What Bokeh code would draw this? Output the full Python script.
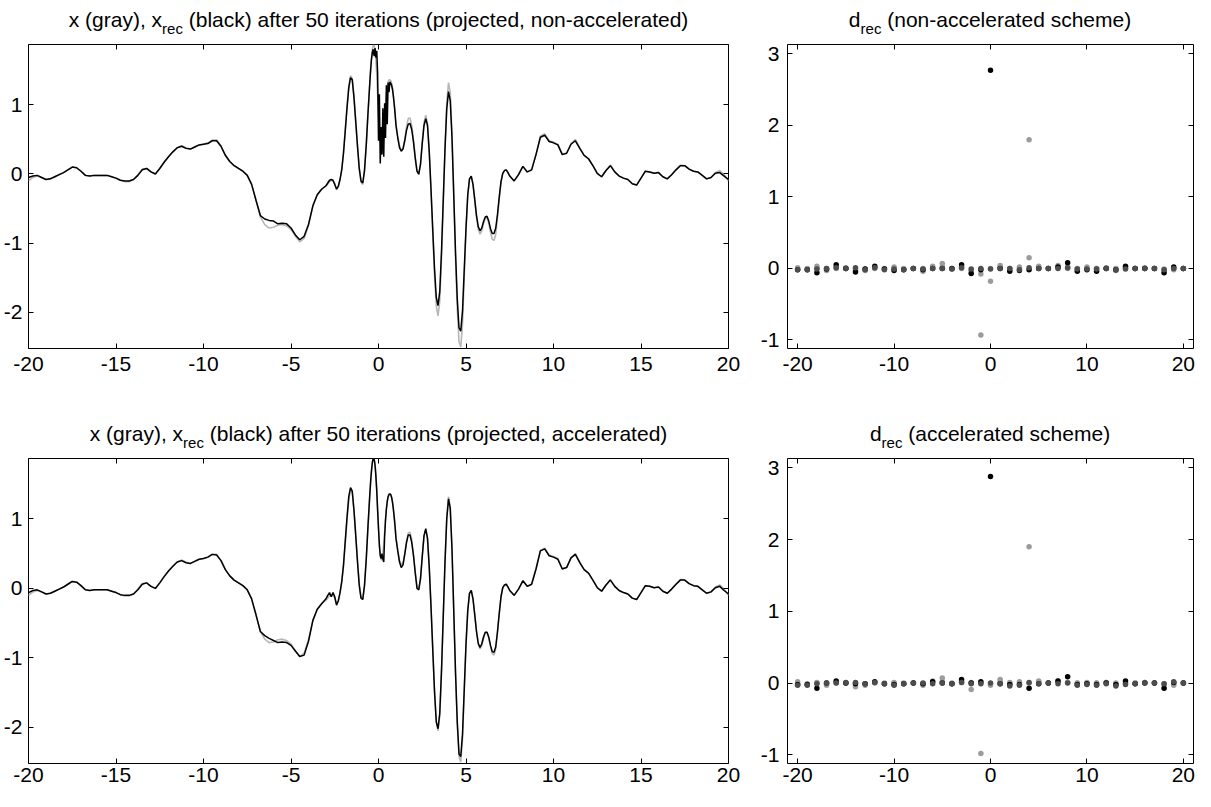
from bokeh.plotting import figure
from bokeh.layouts import column, row
from bokeh.models import FixedTicker, LinearAxis, Range1d
from bokeh.core.properties import value
from bokeh.embed import file_html
from bokeh.resources import INLINE

# ---------------- signal: sample positions ----------------
t = [
    # -20 .. -3.25
    -20.0, -19.75, -19.5, -19.25, -19.0, -18.75, -18.5, -18.25, -18.0, -17.75,
    -17.5, -17.25, -17.0, -16.75, -16.5, -16.25, -16.0, -15.75, -15.5, -15.25,
    -15.0, -14.75, -14.5, -14.25, -14.0, -13.75, -13.5, -13.25, -13.0, -12.75,
    -12.5, -12.25, -12.0, -11.75, -11.5, -11.25, -11.0, -10.75, -10.5, -10.25,
    -10.0, -9.75, -9.5, -9.25, -9.0, -8.75, -8.5, -8.25, -8.0, -7.75,
    -7.5, -7.25, -7.0, -6.75, -6.5, -6.25, -6.0, -5.75, -5.5, -5.25,
    -5.0, -4.75, -4.5, -4.25, -4.0, -3.75, -3.5, -3.25,
    # -3.0 .. -0.5
    -3.0, -2.9, -2.8, -2.7, -2.6, -2.5, -2.4, -2.3, -2.2, -2.1,
    -2.0, -1.9, -1.8, -1.7, -1.6, -1.5, -1.4, -1.3, -1.2, -1.1,
    -1.0, -0.9, -0.8, -0.7, -0.6, -0.5,
    # -0.45 .. 0.95
    -0.45, -0.4, -0.35, -0.3, -0.25, -0.2, -0.15, -0.1, -0.05, 0.0,
    0.05, 0.1, 0.15, 0.2, 0.25, 0.3, 0.35, 0.4, 0.45, 0.5,
    0.55, 0.6, 0.65, 0.7, 0.75, 0.8, 0.85, 0.9, 0.95,
    # 1.0 .. 7.4
    1.0, 1.1, 1.2, 1.3, 1.4, 1.5, 1.6, 1.7, 1.8, 1.9,
    2.0, 2.1, 2.2, 2.3, 2.4, 2.5, 2.6, 2.7, 2.8, 2.9,
    3.0, 3.1, 3.2, 3.3, 3.4, 3.5, 3.6, 3.7, 3.8, 3.9,
    4.0, 4.1, 4.2, 4.3, 4.4, 4.5, 4.6, 4.7, 4.8, 4.9,
    5.0, 5.1, 5.2, 5.3, 5.4, 5.5, 5.6, 5.7, 5.8, 5.9,
    6.0, 6.1, 6.2, 6.3, 6.4, 6.5, 6.6, 6.7, 6.8, 6.9,
    7.0, 7.1, 7.2, 7.3, 7.4,
    # 7.5 .. 20
    7.5, 7.75, 8.0, 8.25, 8.5, 8.75, 9.0, 9.25, 9.5, 9.75,
    10.0, 10.25, 10.5, 10.75, 11.0, 11.25, 11.5, 11.75, 12.0, 12.25,
    12.5, 12.75, 13.0, 13.25, 13.5, 13.75, 14.0, 14.25, 14.5, 14.75,
    15.0, 15.25, 15.5, 15.75, 16.0, 16.25, 16.5, 16.75, 17.0, 17.25,
    17.5, 17.75, 18.0, 18.25, 18.5, 18.75, 19.0, 19.25, 19.5, 19.75,
    20.0,
]

# x (gray, true signal)
x_true = [
    -0.10, -0.05, -0.03, -0.05, -0.08, -0.07, -0.04, -0.01, 0.02, 0.06,
    0.10, 0.09, 0.04, -0.02, -0.03, -0.02, -0.02, -0.02, -0.02, -0.04,
    -0.06, -0.09, -0.11, -0.11, -0.08, -0.01, 0.07, 0.08, 0.03, 0.00,
    0.08, 0.17, 0.25, 0.32, 0.38, 0.41, 0.38, 0.36, 0.39, 0.42,
    0.43, 0.45, 0.49, 0.49, 0.40, 0.27, 0.18, 0.12, 0.08, 0.04,
    -0.02, -0.15, -0.38, -0.62, -0.73, -0.78, -0.77, -0.74, -0.73, -0.75,
    -0.80, -0.90, -0.98, -0.93, -0.74, -0.46, -0.30, -0.22,
    -0.17, -0.14, -0.11, -0.10, -0.10, -0.14, -0.21, -0.19, -0.08, 0.08,
    0.32, 0.65, 0.98, 1.27, 1.42, 1.38, 1.12, 0.76, 0.40, 0.08,
    -0.12, -0.15, 0.05, 0.42, 0.88, 1.32,
    1.52, 1.68, 1.80, 1.86, 1.86, 1.80, 1.65, 1.43, 1.15, 0.88,
    0.64, 0.48, 0.41, 0.42, 0.50, 0.64, 0.82, 1.00, 1.15, 1.26,
    1.33, 1.36, 1.36, 1.35, 1.31, 1.24, 1.14, 1.02, 0.88,
    0.72, 0.55, 0.41, 0.34, 0.37, 0.50, 0.68, 0.80, 0.81, 0.70,
    0.49, 0.24, 0.04, -0.01, 0.14, 0.46, 0.74, 0.85, 0.72, 0.32,
    -0.24, -0.86, -1.46, -1.90, -2.05, -1.84, -1.22, -0.42, 0.38, 1.02,
    1.32, 1.18, 0.58, -0.32, -1.22, -1.95, -2.42, -2.50, -2.17, -1.48,
    -0.82, -0.32, -0.07, -0.03, -0.15, -0.38, -0.62, -0.80, -0.87, -0.82,
    -0.72, -0.64, -0.63, -0.71, -0.84, -0.94, -0.96, -0.87, -0.63, -0.36,
    -0.12, 0.01, 0.05, 0.06, 0.02,
    -0.03, -0.10, -0.01, 0.11, 0.03, 0.06, 0.28, 0.55, 0.58, 0.48,
    0.46, 0.43, 0.29, 0.30, 0.44, 0.50, 0.38, 0.27, 0.22, 0.12,
    0.01, -0.04, 0.05, 0.13, 0.03, -0.03, -0.06, -0.08, -0.14, -0.16,
    -0.06, 0.04, 0.03, 0.01, 0.02, -0.04, -0.07, -0.01, 0.06, 0.13,
    0.12, 0.07, 0.04, 0.03, -0.02, -0.07, -0.05, 0.02, 0.05, -0.01,
    -0.10,
]

# x_rec (black), projected, non-accelerated
x_rec_nonacc = [
    -0.05, -0.03, -0.02, -0.05, -0.08, -0.07, -0.04, -0.01, 0.02, 0.06,
    0.10, 0.09, 0.04, -0.02, -0.03, -0.02, -0.02, -0.02, -0.02, -0.04,
    -0.06, -0.09, -0.10, -0.10, -0.08, -0.02, 0.06, 0.08, 0.03, 0.00,
    0.08, 0.17, 0.25, 0.32, 0.38, 0.40, 0.37, 0.36, 0.39, 0.42,
    0.43, 0.44, 0.48, 0.48, 0.40, 0.27, 0.18, 0.12, 0.08, 0.04,
    -0.02, -0.15, -0.38, -0.60, -0.65, -0.67, -0.68, -0.72, -0.71, -0.72,
    -0.78, -0.88, -0.95, -0.90, -0.73, -0.46, -0.30, -0.22,
    -0.17, -0.13, -0.09, -0.08, -0.09, -0.15, -0.22, -0.18, -0.08, 0.06,
    0.30, 0.62, 0.95, 1.24, 1.39, 1.36, 1.10, 0.75, 0.40, 0.08,
    -0.10, -0.13, 0.05, 0.42, 0.88, 1.30,
    1.50, 1.66, 1.76, 1.80, 1.70, 1.82, 1.68, 1.78, 1.45, 0.48,
    1.15, 0.15, 0.68, 0.28, 0.95, 0.25, 1.02, 0.52, 1.28, 0.72,
    1.32, 1.18, 1.33, 1.31, 1.28, 1.22, 1.12, 1.00, 0.86,
    0.70, 0.52, 0.38, 0.33, 0.36, 0.48, 0.63, 0.72, 0.73, 0.64,
    0.46, 0.23, 0.04, 0.00, 0.14, 0.44, 0.70, 0.80, 0.70, 0.32,
    -0.22, -0.80, -1.36, -1.78, -1.90, -1.70, -1.12, -0.38, 0.36, 0.94,
    1.19, 1.06, 0.52, -0.30, -1.12, -1.80, -2.22, -2.27, -1.98, -1.38,
    -0.78, -0.30, -0.07, -0.03, -0.15, -0.37, -0.60, -0.76, -0.82, -0.78,
    -0.69, -0.62, -0.61, -0.68, -0.79, -0.86, -0.86, -0.78, -0.58, -0.33,
    -0.11, 0.01, 0.05, 0.06, 0.02,
    -0.03, -0.10, -0.01, 0.11, 0.03, 0.06, 0.28, 0.53, 0.56, 0.47,
    0.45, 0.42, 0.28, 0.30, 0.43, 0.48, 0.37, 0.27, 0.22, 0.12,
    0.01, -0.04, 0.05, 0.12, 0.03, -0.03, -0.06, -0.08, -0.14, -0.16,
    -0.06, 0.04, 0.03, 0.01, 0.02, -0.04, -0.07, -0.01, 0.06, 0.12,
    0.12, 0.07, 0.04, 0.03, -0.02, -0.07, -0.05, 0.01, 0.02, -0.03,
    -0.08,
]

# x_rec (black), projected, accelerated
x_rec_acc = [
    -0.06, -0.03, -0.02, -0.05, -0.08, -0.07, -0.04, -0.01, 0.02, 0.06,
    0.10, 0.09, 0.04, -0.02, -0.03, -0.02, -0.02, -0.02, -0.02, -0.04,
    -0.06, -0.09, -0.10, -0.10, -0.08, -0.02, 0.06, 0.08, 0.03, 0.00,
    0.08, 0.17, 0.25, 0.32, 0.38, 0.40, 0.37, 0.36, 0.39, 0.42,
    0.43, 0.45, 0.49, 0.48, 0.40, 0.27, 0.18, 0.12, 0.08, 0.04,
    -0.02, -0.15, -0.38, -0.62, -0.68, -0.72, -0.75, -0.78, -0.77, -0.78,
    -0.82, -0.90, -0.98, -0.96, -0.76, -0.46, -0.30, -0.22,
    -0.15, -0.10, -0.06, -0.12, -0.06, -0.12, -0.24, -0.18, -0.06, 0.10,
    0.34, 0.68, 1.02, 1.32, 1.45, 1.40, 1.12, 0.76, 0.38, 0.04,
    -0.14, -0.16, 0.04, 0.42, 0.90, 1.34,
    1.54, 1.70, 1.82, 1.87, 1.86, 1.78, 1.62, 1.40, 1.12, 0.86,
    0.62, 0.47, 0.43, 0.50, 0.42, 0.38, 0.74, 0.98, 1.14, 1.25,
    1.32, 1.35, 1.36, 1.35, 1.31, 1.24, 1.14, 1.02, 0.88,
    0.72, 0.54, 0.38, 0.30, 0.34, 0.49, 0.66, 0.77, 0.77, 0.66,
    0.47, 0.22, 0.00, -0.02, 0.14, 0.46, 0.76, 0.86, 0.72, 0.30,
    -0.26, -0.88, -1.48, -1.92, -2.02, -1.80, -1.18, -0.40, 0.38, 1.00,
    1.29, 1.15, 0.56, -0.32, -1.20, -1.92, -2.38, -2.42, -2.10, -1.45,
    -0.80, -0.32, -0.07, -0.03, -0.15, -0.38, -0.62, -0.79, -0.85, -0.80,
    -0.70, -0.63, -0.63, -0.70, -0.82, -0.91, -0.92, -0.84, -0.62, -0.36,
    -0.12, 0.01, 0.05, 0.06, 0.02,
    -0.03, -0.10, -0.01, 0.11, 0.03, 0.06, 0.28, 0.54, 0.57, 0.47,
    0.45, 0.42, 0.28, 0.30, 0.44, 0.49, 0.37, 0.27, 0.22, 0.12,
    0.01, -0.04, 0.05, 0.12, 0.03, -0.03, -0.06, -0.08, -0.14, -0.16,
    -0.06, 0.04, 0.03, 0.01, 0.02, -0.04, -0.07, -0.01, 0.06, 0.12,
    0.12, 0.07, 0.04, 0.03, -0.02, -0.07, -0.05, 0.01, 0.03, -0.03,
    -0.08,
]

# ---------------- d_rec: integer positions ----------------
d_pos = [-20, -19, -18, -17, -16, -15, -14, -13, -12, -11, -10, -9, -8, -7, -6, -5, -4,
         -3, -2, -1, 0, 1, 2, 3, 4, 5, 6, 7, 8, 9, 10, 11, 12, 13, 14, 15, 16, 17, 18, 19, 20]

# non-accelerated scheme
d1_black = [-0.02, -0.02, -0.06, -0.01, 0.05, 0.00, -0.05, -0.01, 0.03, -0.01,
            -0.03, -0.02, 0.00, -0.02, 0.00, 0.00, 0.00, 0.05, -0.07, -0.02,
            2.77, 0.00, -0.04, -0.03, -0.02, 0.00, 0.00, 0.02, 0.08, -0.04,
            -0.02, -0.04, 0.00, -0.02, 0.03, 0.00, 0.00, 0.00, -0.06, 0.02, 0.00]
d1_dark = [-0.02, -0.02, -0.01, 0.00, 0.01, 0.00, 0.01, -0.02, 0.01, -0.02,
           -0.01, -0.02, 0.00, -0.01, 0.00, 0.00, -0.01, 0.01, -0.01, 0.00,
           -0.01, 0.00, 0.00, -0.02, 0.01, 0.00, 0.00, 0.00, 0.01, -0.01,
           -0.01, -0.01, 0.00, -0.02, -0.01, 0.00, 0.00, 0.00, -0.02, 0.00, 0.00]
d1_gray = [0.01, 0.00, 0.03, -0.03, 0.00, 0.00, -0.03, -0.03, 0.00, 0.00,
           0.02, 0.00, 0.00, -0.04, 0.03, 0.07, 0.00, 0.00, -0.04, -0.93,
           -0.18, 0.04, 0.00, 0.02, 1.80, 0.03, 0.00, 0.04, 0.00, 0.00,
           0.02, 0.00, 0.00, -0.03, 0.00, 0.00, 0.01, 0.00, -0.02, -0.02, 0.00]
d1_light = [-0.01, -0.01, 0.00, 0.00, 0.02, 0.01, 0.00, -0.01, 0.01, -0.01,
            0.00, -0.01, 0.00, 0.00, 0.01, 0.02, -0.01, 0.02, -0.02, -0.08,
            0.00, 0.02, -0.02, 0.00, 0.15, 0.01, 0.00, 0.01, 0.02, 0.00,
            0.00, 0.00, 0.01, 0.00, 0.01, 0.00, 0.00, 0.00, -0.01, 0.00, 0.00]

# accelerated scheme
d2_black = [-0.02, -0.02, -0.07, 0.00, 0.03, 0.00, -0.01, -0.01, 0.02, -0.01,
            -0.02, -0.01, 0.00, -0.01, 0.02, 0.00, -0.01, 0.05, 0.00, 0.02,
            2.88, -0.01, -0.02, -0.02, -0.07, -0.01, 0.00, 0.03, 0.09, -0.02,
            -0.01, -0.02, 0.00, -0.02, 0.03, -0.01, 0.00, 0.00, -0.07, 0.01, 0.00]
d2_dark = [-0.03, -0.03, -0.01, 0.00, 0.00, 0.01, 0.01, -0.01, 0.01, -0.01,
           -0.03, -0.01, 0.00, 0.00, -0.01, 0.00, -0.01, 0.01, -0.01, -0.01,
           0.00, -0.01, -0.04, -0.03, 0.01, -0.01, 0.00, -0.01, 0.00, -0.03,
           -0.02, -0.03, -0.01, -0.04, -0.02, -0.01, 0.00, 0.00, -0.01, 0.02, 0.00]
d2_gray = [0.02, -0.01, 0.01, -0.03, 0.00, 0.00, -0.05, -0.03, 0.00, 0.00,
           0.01, 0.00, 0.00, -0.03, 0.03, 0.07, 0.00, 0.02, 0.01, -0.98,
           -0.03, 0.05, 0.01, 0.02, 1.90, 0.03, 0.00, 0.03, 0.01, 0.00,
           0.01, 0.00, 0.01, -0.02, 0.00, 0.00, 0.01, 0.00, -0.02, -0.03, 0.00]
d2_light = [-0.01, -0.02, 0.00, -0.01, 0.01, 0.00, 0.00, -0.01, 0.01, -0.01,
            0.00, -0.01, 0.00, -0.01, 0.01, 0.02, -0.01, 0.01, -0.09, 0.00,
            -0.01, 0.02, 0.00, 0.00, 0.00, 0.02, 0.00, 0.02, 0.01, 0.00,
            0.00, 0.00, 0.01, 0.00, 0.00, 0.00, 0.01, 0.00, -0.01, -0.01, 0.00]

# tick values
LXT = [-20, -15, -10, -5, 0, 5, 10, 15, 20]
LYT = [-2, -1, 0, 1]
RXT = [-20, -10, 0, 10, 20]
RYT = [-1, 0, 1, 2, 3]

for name, arr in [("x_true", x_true), ("x_rec_nonacc", x_rec_nonacc), ("x_rec_acc", x_rec_acc)]:
    if len(arr) != len(t):
        raise ValueError(f"{name}: {len(arr)} vs {len(t)}")
for name, arr in [("d1_black", d1_black), ("d1_dark", d1_dark), ("d1_gray", d1_gray), ("d1_light", d1_light),
                  ("d2_black", d2_black), ("d2_dark", d2_dark), ("d2_gray", d2_gray), ("d2_light", d2_light)]:
    if len(arr) != len(d_pos):
        raise ValueError(f"{name}: {len(arr)} vs {len(d_pos)}")

# ---------------- styling helpers ----------------
FONT = "Liberation Sans"
TICK_PX = 21
TITLE_PX = 21
SUB_PX = 15

AW = {" ": 278, "(": 333, ")": 333, ",": 278, "-": 333, ".": 278,
      "0": 556, "1": 556, "2": 556, "3": 556, "4": 556, "5": 556, "6": 556, "7": 556, "8": 556, "9": 556,
      "a": 556, "b": 556, "c": 500, "d": 556, "e": 556, "f": 278, "g": 556, "h": 556, "i": 222,
      "j": 222, "k": 500, "l": 222, "m": 833, "n": 556, "o": 556, "p": 556, "q": 556, "r": 333,
      "s": 500, "t": 278, "u": 556, "v": 500, "w": 722, "x": 500, "y": 500, "z": 500}


def tw(s, px):
    return sum(AW.get(c, 556) for c in s) * px / 1000.0


def style_axis(ax, ticks, standoff, show_labels=True):
    ax.ticker = FixedTicker(ticks=ticks)
    ax.axis_line_color = None
    ax.major_tick_in = 5
    ax.major_tick_out = 0
    ax.major_tick_line_color = "black"
    ax.major_tick_line_width = 1
    ax.minor_tick_line_color = None
    ax.major_label_text_font = FONT
    if show_labels:
        ax.major_label_overrides = {v: str(v) for v in ticks}
        ax.major_label_text_color = "black"
        ax.major_label_text_font_size = f"{TICK_PX}px"
        ax.major_label_standoff = standoff
    else:
        ax.major_label_text_color = None
        ax.major_label_text_font_size = "1px"
        ax.major_label_standoff = 0


def make_fig(width, height, mbl, mbr, mbt, mbb, xr, yr, xt, yt, xstand, ystand):
    p = figure(width=width, height=height, x_range=Range1d(*xr), y_range=Range1d(*yr),
               output_backend="svg", toolbar_location=None, title=None,
               min_border_left=mbl, min_border_right=mbr,
               min_border_top=mbt, min_border_bottom=mbb)
    p.grid.visible = False
    p.background_fill_color = "white"
    p.border_fill_color = "white"
    p.outline_line_color = "black"
    p.outline_line_width = 1
    style_axis(p.xaxis[0], xt, xstand)
    style_axis(p.yaxis[0], yt, ystand)
    top = LinearAxis()
    style_axis(top, xt, 0, show_labels=False)
    p.add_layout(top, "above")
    right = LinearAxis()
    style_axis(right, yt, 0, show_labels=False)
    p.add_layout(right, "right")
    return p


def title_strip(width, height, center_x, part_a, sub, part_b):
    """A bare figure (frame == whole canvas, pixel units) that carries a title with a subscript."""
    s = figure(width=width, height=height, x_range=Range1d(0, width), y_range=Range1d(0, height),
               output_backend="svg", toolbar_location=None, title=None,
               x_axis_type=None, y_axis_type=None,
               min_border_left=0, min_border_right=0, min_border_top=0, min_border_bottom=0)
    s.grid.visible = False
    s.outline_line_color = None
    s.background_fill_color = "white"
    s.border_fill_color = "white"
    b = part_b.lstrip()
    wa = tw(part_a, TITLE_PX)
    ws = tw(sub, SUB_PX)
    wsp = tw(" ", TITLE_PX)
    wb = tw(b, TITLE_PX)
    left = center_x - (wa + ws + wsp + wb) / 2.0
    base = 17
    s.text(x=[left, left + wa + ws + wsp], y=[base, base], text=[part_a, b],
           text_font=value(FONT), text_font_size=value(f"{TITLE_PX}px"),
           text_color="black", text_align="left", text_baseline="alphabetic")
    s.text(x=[left + wa], y=[base - 9], text=[sub],
           text_font=value(FONT), text_font_size=value(f"{SUB_PX}px"),
           text_color="black", text_align="left", text_baseline="alphabetic")
    return s


LX = (-20, 20)
LY = (-2.52, 1.87)
RX = (-21.05, 21.05)
RY = (-1.12, 3.13)

GRAY_LINE = "#b7b7b7"
C_BLACK = "#000000"
C_DARK = "#4d4d4d"
C_GRAY = "#9c9c9c"

LW, RW = 757, 438
L_MBL, L_MBR = 28, 29          # left frame 700 px wide
R_MBL, R_MBR = 29, 2           # right frame 407 px wide


def signal_panel(height, mbt, mbb, xstand, rec):
    p = make_fig(LW, height, L_MBL, L_MBR, mbt, mbb, LX, LY, LXT, LYT, xstand, 6)
    p.line(t, x_true, line_color=GRAY_LINE, line_width=1.6)
    p.line(t, rec, line_color=C_BLACK, line_width=1.5)
    return p


def d_panel(height, mbt, mbb, xstand, blk, drk, gry, lgt):
    p = make_fig(RW, height, R_MBL, R_MBR, mbt, mbb, RX, RY, RXT, RYT, xstand, 8)
    p.scatter(d_pos, lgt, size=5.5, color=C_GRAY, line_width=0)
    p.scatter(d_pos, gry, size=5.5, color=C_GRAY, line_width=0)
    p.scatter(d_pos, blk, size=5.5, color=C_BLACK, line_width=0)
    p.scatter(d_pos, drk, size=5.5, color=C_DARK, line_width=0)
    return p


LCX = L_MBL + (LW - L_MBL - L_MBR) / 2.0
RCX = R_MBL + (RW - R_MBL - R_MBR) / 2.0

t1 = title_strip(LW, 36, LCX, "x (gray), x", "rec",
                 " (black) after 50 iterations (projected, non-accelerated)")
t2 = title_strip(RW, 36, RCX, "d", "rec", " (non-accelerated scheme)")
p1 = signal_panel(344, 8, 32, 8, x_rec_nonacc)
p2 = d_panel(344, 8, 32, 8, d1_black, d1_dark, d1_gray, d1_light)

t3 = title_strip(LW, 70, LCX, "x (gray), x", "rec",
                 " (black) after 50 iterations (projected, accelerated)")
t4 = title_strip(RW, 70, RCX, "d", "rec", " (accelerated scheme)")
p3 = signal_panel(341, 8, 28, 4, x_rec_acc)
p4 = d_panel(341, 8, 28, 4, d2_black, d2_dark, d2_gray, d2_light)

layout = column(row(t1, t2), row(p1, p2), row(t3, t4), row(p3, p4))
open("out.html", "w").write(file_html(layout, INLINE))
